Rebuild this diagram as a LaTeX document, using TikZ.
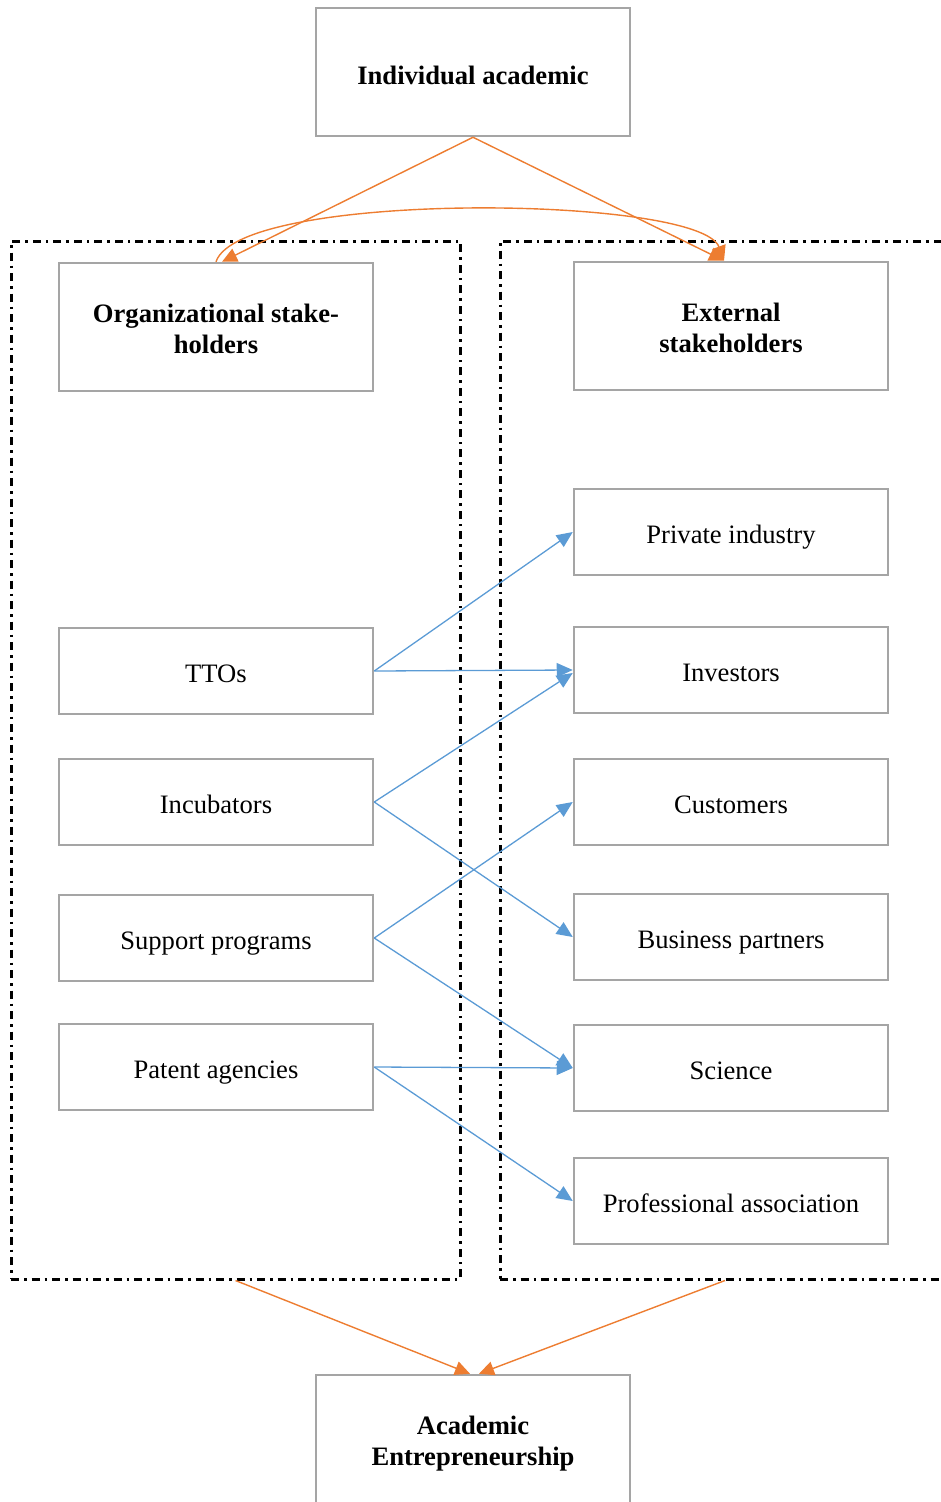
\documentclass[tikz,border=0pt]{standalone}
\usepackage{fontspec}
\setmainfont{Liberation Serif}
\usetikzlibrary{arrows.meta,calc}
\definecolor{boxgray}{HTML}{A5A5A5}
\definecolor{arrblue}{HTML}{5B9BD5}
\definecolor{arrorange}{HTML}{ED7D31}
\tikzset{
  box/.style={draw=boxgray, line width=2.5pt, fill=white, minimum width=314pt, align=center,
    font=\fontsize{26.6}{30.6}\selectfont, inner sep=0pt},
  bigbox/.style={box, minimum height=128pt, font=\fontsize{26.6}{30.6}\selectfont\bfseries,
    text height=52.6pt, text depth=0pt},
  topbox/.style={box, minimum height=128pt, font=\fontsize{26.6}{30.6}\selectfont\bfseries,
    text height=24pt, text depth=0pt},
  smallbox/.style={box, minimum height=86pt, text height=22pt, text depth=0pt},
  group/.style={draw=black, line width=3pt, dash pattern=on 8pt off 5pt on 2.5pt off 5pt, inner sep=0pt},
  blueline/.style={draw=arrblue, line width=1.3pt, -{Triangle[length=16pt,width=14pt]}},
  orangeline/.style={draw=arrorange, line width=1.4pt, -{Triangle[length=15pt,width=14pt]}},
}
\begin{document}
\begin{tikzpicture}[x=1pt,y=-1pt]
\useasboundingbox (0,0) rectangle (941,1502);
% group frames
\node[group, minimum width=449pt, minimum height=1038pt] (grpL) at (235.5,760) {};
\node[group, minimum width=450pt, minimum height=1038pt] (grpR) at (725,760) {};
% boxes
\node[topbox] (ia) at (473,72) {Individual academic};
\node[bigbox] (org) at (216,327) {Organizational stake-\\holders};
\node[bigbox] (ext) at (731,326) {External\\stakeholders};
\node[smallbox] (priv) at (731,532) {Private industry};
\node[smallbox] (inv) at (731,670) {Investors};
\node[smallbox] (cust) at (731,802) {Customers};
\node[smallbox] (bp) at (731,937) {Business partners};
\node[smallbox] (sci) at (731,1068) {Science};
\node[smallbox] (prof) at (731,1201) {Professional association};
\node[smallbox] (tto) at (216,671) {TTOs};
\node[smallbox] (inc) at (216,802) {Incubators};
\node[smallbox] (sup) at (216,938) {Support programs};
\node[smallbox] (pat) at (216,1067) {Patent agencies};
\node[bigbox] (ae) at (473,1439) {Academic\\Entrepreneurship};
% blue connectors
\draw[blueline] (tto.east) -- (priv.west);
\draw[blueline] (tto.east) -- (inv.west);
\draw[blueline] (inc.east) -- ($(inv.west)+(0,3)$);
\draw[blueline] (inc.east) -- (bp.west);
\draw[blueline] (sup.east) -- (cust.west);
\draw[blueline] (sup.east) -- (sci.west);
\draw[blueline] (pat.east) -- (sci.west);
\draw[blueline] (pat.east) -- (prof.west);
% orange connectors
\draw[orangeline] (ia.south) -- ($(org.north)+(6,0)$);
\draw[orangeline] (ia.south) -- ($(ext.north)+(-7,0)$);
\draw[orangeline] (org.north) .. controls (240,190) and (700,195) .. ($(ext.north)+(-7,0)$);
\draw[orangeline] (grpL.south) -- ($(ae.north)+(-3,0)$);
\draw[orangeline] (grpR.south) -- ($(ae.north)+(6,0)$);
\end{tikzpicture}
\end{document}
